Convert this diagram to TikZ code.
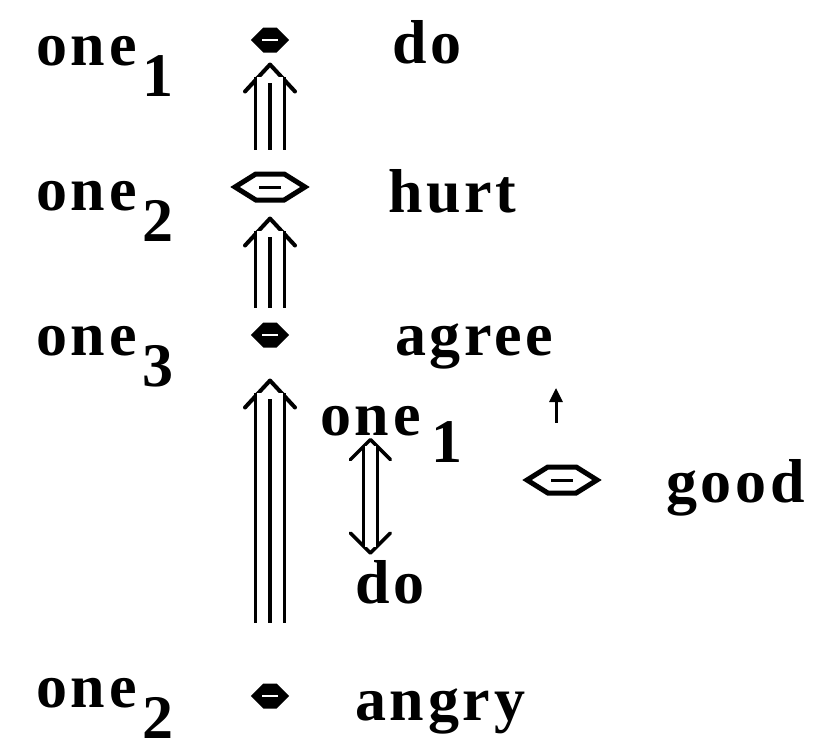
\documentclass[tikz,border=0pt]{standalone}
\usepackage{fontspec}
\setmainfont{Liberation Serif}[LetterSpace=6]
\usetikzlibrary{arrows.meta,positioning,calc,shapes.symbols}

\newcommand{\lowdigit}[1]{\hspace{6pt}\raisebox{-31pt}{#1}}
\tikzset{
 bigchev/.tip={Straight Barb[length=27pt,width=50pt,line width=4pt,round,color=black]},
 pairchev/.tip={Straight Barb[length=20pt,width=40pt,line width=3.5pt,round,color=black]}}

\begin{document}
\begin{tikzpicture}[x=1pt,y=1pt,font=\fontsize{62}{70}\selectfont\bfseries,
 word/.style={anchor=base west,inner sep=0pt},
 iffblob/.style={signal,signal to=east and west,signal pointer angle=90,
  draw,fill,line width=3pt,minimum width=34pt,minimum height=22pt,inner sep=0pt},
 iffopen/.style={signal,signal to=east and west,signal pointer angle=64,
  draw,line width=5pt,minimum width=70pt,minimum height=26pt,inner sep=0pt},
 headpath/.style={white,line width=.5pt},
 tripleshaft/.style={double,line width=3.5pt,double distance=25.5pt},
 midshaft/.style={line width=3.5pt},
 pairshaft/.style={double,line width=3.5pt,double distance=10.5pt},
 thinarrow/.style={line width=3pt,-{Triangle[length=14pt,width=13pt]}}]
\useasboundingbox (0,0) rectangle (814,-753);
% left column
\node[word] (l1) at (36,-65) {one\lowdigit{1}};
\node[word] (l2) at (36,-210) {one\lowdigit{2}};
\node[word] (l3) at (36,-355) {one\lowdigit{3}};
\node[word] (l4) at (36,-707) {one\lowdigit{2}};
% symbols
\node[iffblob] (s1) at (270,-40) {};
\node[iffopen] (s2) at (270,-187) {};
\node[iffblob] (s3) at (270,-335) {};
\node[iffblob] (s4) at (270,-696) {};
\node[iffopen] (s5) at (562,-480) {};
\foreach \s in {s1,s3,s4}
 \draw[white,line width=2pt] ([xshift=-8pt]\s.center) -- ([xshift=8pt]\s.center);
\foreach \s in {s2,s5}
 \draw[line width=3pt] ([xshift=-11pt]\s.center) -- ([xshift=11pt]\s.center);
% right column
\node[word] (r1) at (392,-63) {do};
\node[word] (r2) at (388,-212) {hurt};
\node[word] (r3) at (395,-355) {agree};
\node[word] (r4) at (355,-720) {angry};
\node[word] (m1) at (320,-435) {one};
\node[word] (m1n) at ([xshift=10pt,yshift=-27pt]m1.base east) {1};
\node[word] (m2) at (355,-603) {do};
\node[word] (g1) at (666,-502) {good};
\coordinate (t5) at (556,-388);

% triple arrows
\draw[headpath,-bigchev,shorten <=22pt,shorten >=10pt] (s2.north) -- (s2.north |- s1.south);
\draw[tripleshaft,shorten <=22pt,shorten >=24pt] (s2.north) -- (s2.north |- s1.south);
\draw[midshaft,shorten <=22pt,shorten >=30pt] (s2.north) -- (s2.north |- s1.south);
\draw[headpath,-bigchev,shorten <=15pt,shorten >=14pt] (s3.north) -- (s3.north |- s2.south);
\draw[tripleshaft,shorten <=15pt,shorten >=28pt] (s3.north) -- (s3.north |- s2.south);
\draw[midshaft,shorten <=15pt,shorten >=34pt] (s3.north) -- (s3.north |- s2.south);
\draw[headpath,-bigchev,shorten <=61pt,shorten >=31pt] (s4.north) -- (s4.north |- s3.south);
\draw[tripleshaft,shorten <=61pt,shorten >=45pt] (s4.north) -- (s4.north |- s3.south);
\draw[midshaft,shorten <=61pt,shorten >=51pt] (s4.north) -- (s4.north |- s3.south);

% up-down pair
\draw[headpath,pairchev-pairchev,shorten <=2pt,shorten >=5pt] (m1.south) -- (m1.south |- m2.north);
\draw[pairshaft,shorten <=10pt,shorten >=13pt] (m1.south) -- (m1.south |- m2.north);

\draw[thinarrow,shorten <=42pt] (s5.north -| t5) -- (t5);
\end{tikzpicture}
\end{document}
